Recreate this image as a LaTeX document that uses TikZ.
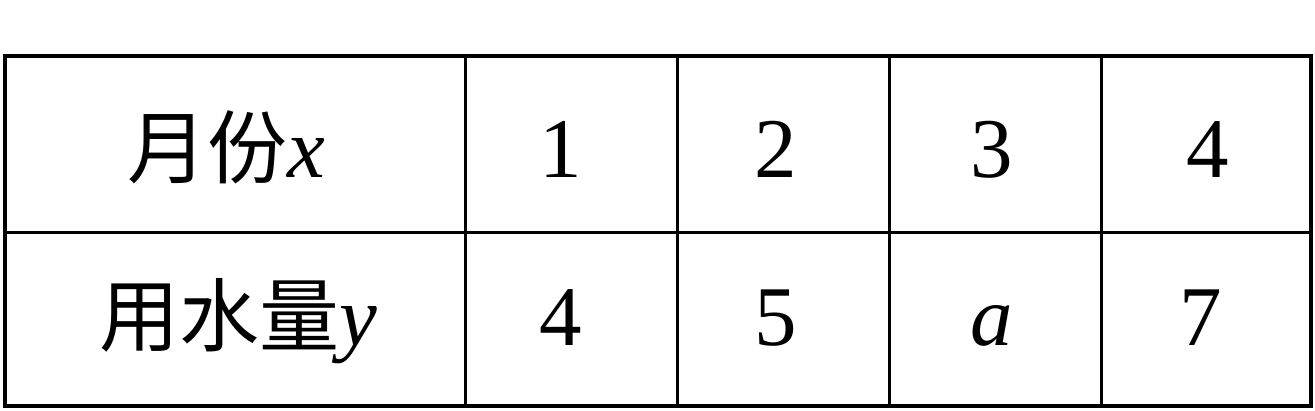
\documentclass[tikz,border=0pt]{standalone}
\usepackage{fontspec}
\setmainfont{Liberation Serif}
\newfontfamily\cjk{Noto Sans CJK SC}
\begin{document}
\begin{tikzpicture}[x=1pt,y=-1pt,
  outer/.style={line width=4.5pt},
  inner/.style={line width=3pt},
  cell/.style={anchor=base,inner sep=0pt,font=\fontsize{85}{90}\selectfont},
  hcell/.style={anchor=base,inner sep=0pt,font=\fontsize{85}{90}\selectfont}]
\useasboundingbox (0,0) rectangle (1315,410);
\coordinate (tl) at (5,56);
\coordinate (br) at (1311,406);
\draw[inner] (5,232) -- (1311,232);
\foreach \xx in {465,677,889,1101} \draw[inner] (\xx,56) -- (\xx,406);
\draw[outer] (tl) rectangle (br);
\node[hcell] (h1) at (226,177) {{\cjk\fontsize{80}{90}\selectfont 月份}\textit{x}};
\node[hcell] (h2) at (238,345) {{\cjk\fontsize{80}{90}\selectfont 用水量}\textit{y}};
\node[cell] (a1) at (561,177) {1};
\node[cell] (a2) at (776,177) {2};
\node[cell] (a3) at (992,177) {3};
\node[cell] (a4) at (1208,177) {4};
\node[cell] (b1) at (561,345) {4};
\node[cell] (b2) at (776,345) {5};
\node[cell] (b3) at (992,345) {\textit{a}};
\node[cell] (b4) at (1201,345) {7};
\end{tikzpicture}
\end{document}
